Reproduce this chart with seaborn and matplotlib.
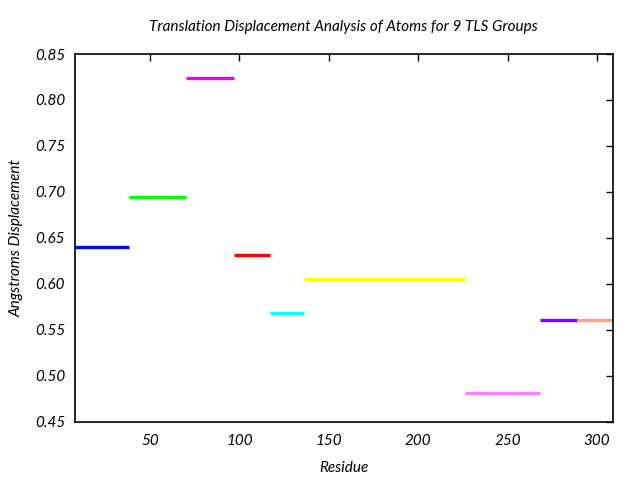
import matplotlib
matplotlib.use("Agg")
import matplotlib.pyplot as plt
import seaborn as sns
import pandas as pd

groups = ["G1", "G2", "G3", "G4", "G5", "G6", "G7", "G8", "G9"]
starts = [8, 38, 70, 97, 117, 136, 226, 268, 289]
ends = [38, 70, 97, 117, 136, 226, 268, 289, 309]
values = [0.640, 0.694, 0.824, 0.632, 0.568, 0.605, 0.481, 0.561, 0.561]
colors = ["#0000ff", "#00ff00", "#ee00ee", "#ff0000", "#00ffff",
          "#ffff00", "#ff80ff", "#8000ff", "#ffa080"]

rows = []
for g, s, e, v in zip(groups, starts, ends, values):
    rows.append({"group": g, "x": s, "y": v})
    rows.append({"group": g, "x": e, "y": v})
df = pd.DataFrame(rows)

sns.set_style("white")
plt.rcParams["font.family"] = ["Lato", "DejaVu Sans"]
plt.rcParams["text.color"] = "black"
plt.rcParams["axes.labelcolor"] = "black"

fig = plt.figure(figsize=(6.4, 4.8), dpi=100)
ax = fig.add_axes([0.117, 0.121, 0.841, 0.7665])
sns.lineplot(data=df, x="x", y="y", hue="group", palette=colors,
             estimator=None, legend=False, linewidth=2.4, ax=ax,
             solid_capstyle="butt")

ax.set_xlim(8, 309)
ax.set_ylim(0.45, 0.85)
ax.set_xticks([50, 100, 150, 200, 250, 300])
ax.set_yticks([0.45, 0.50, 0.55, 0.60, 0.65, 0.70, 0.75, 0.80, 0.85])
ax.set_yticklabels([f"{t:.2f}" for t in ax.get_yticks()])
ax.tick_params(direction="in", length=5, width=1, top=True, right=True,
               labelsize=11, colors="black")
ax.tick_params(axis="y", pad=7)
ax.tick_params(axis="x", pad=9)
for lab in ax.get_xticklabels() + ax.get_yticklabels():
    lab.set_fontstyle("italic")
for sp in ax.spines.values():
    sp.set_color("black")
    sp.set_linewidth(1.2)

ax.set_xlabel("Residue", fontsize=11, fontstyle="italic", labelpad=9, color="black")
ax.set_ylabel("Angstroms Displacement", fontsize=11, fontstyle="italic", labelpad=8, color="black")
fig.text(0.536, 0.943, "Translation Displacement Analysis of Atoms for 9 TLS Groups",
         ha="center", va="center", fontsize=11, fontstyle="italic", color="black")

fig.savefig("out.png", dpi=100)
